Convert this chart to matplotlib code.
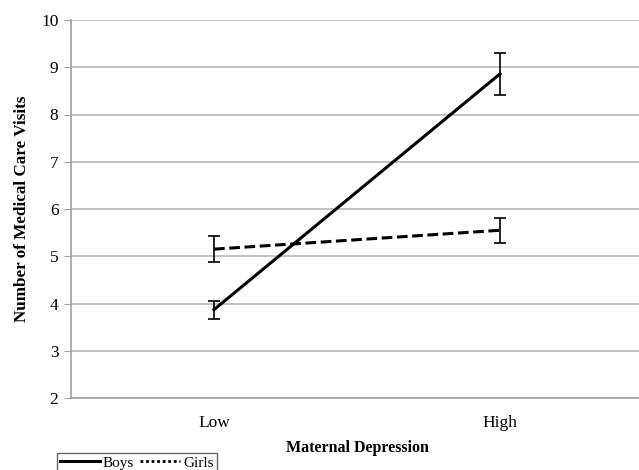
import matplotlib.pyplot as plt
from matplotlib.lines import Line2D

plt.rcParams['font.family'] = ['Liberation Serif', 'DejaVu Serif']

# 数据
categories = ['Low', 'High']
boys = [3.87, 8.86]
boys_err = [0.19, 0.44]
girls = [5.15, 5.55]
girls_err = [0.27, 0.27]

fig = plt.figure(figsize=(6.39, 4.70), dpi=100)
ax = fig.add_axes([71 / 639, 1 - 398 / 470, 572 / 639, 378 / 470])

x = [0, 1]
ax.errorbar(x, boys, yerr=boys_err, color='black', linewidth=2.2,
            ecolor='black', elinewidth=1.2, capsize=4, capthick=1.2)
ax.errorbar(x, girls, yerr=girls_err, color='black', linewidth=2.2, linestyle=(0, (3.5, 1.5)),
            ecolor='black', elinewidth=1.2, capsize=4, capthick=1.2)

ax.set_xlim(-0.5, 1.5)
ax.set_ylim(2, 10)
ax.set_xticks(x)
ax.set_xticklabels(categories, fontsize=12.5)
ax.set_yticks(range(2, 11))
ax.tick_params(axis='x', length=0, pad=12)
ax.tick_params(axis='y', length=5, color='#a0a0a0', labelsize=12.5, pad=4)
ax.yaxis.grid(True, color='#b8b8b8', linewidth=1.2)
ax.set_axisbelow(True)
for s in ['top', 'right']:
    ax.spines[s].set_visible(False)
for s in ['left', 'bottom']:
    ax.spines[s].set_color('#a0a0a0')
    ax.spines[s].set_linewidth(1.2)

ax.set_xlabel('Maternal Depression', fontsize=11.5, fontweight='bold', labelpad=7)
ax.set_ylabel('Number of Medical Care Visits', fontsize=12.3, fontweight='bold', labelpad=8)

handles = [Line2D([], [], color='black', linewidth=2.2),
           Line2D([], [], color='black', linewidth=2, linestyle=(0, (1, 1)))]
fig.legend(handles, ['Boys', 'Girls'], loc='upper left', bbox_to_anchor=(57 / 639, 1 - 453 / 470),
           ncol=2, frameon=True, fancybox=False, edgecolor='#404040', fontsize=11,
           handlelength=2.6, handletextpad=0.2, columnspacing=0.4, borderpad=0.2,
           borderaxespad=0)

fig.savefig('out.png', dpi=100)
